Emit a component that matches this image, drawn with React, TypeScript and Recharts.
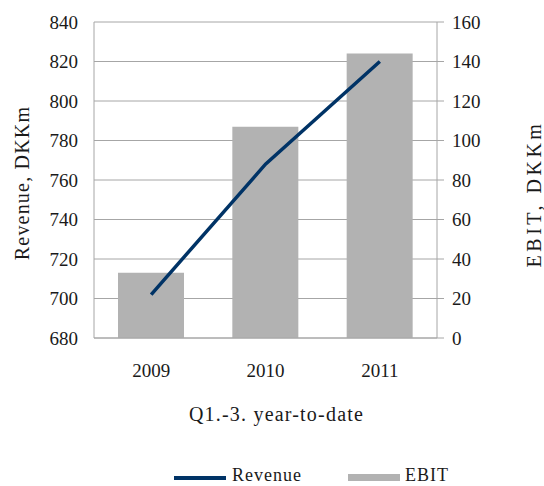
import React from 'react';
import { ComposedChart, Bar, Line, XAxis, YAxis, CartesianGrid, Legend, Label } from 'recharts';

const years = ['2009', '2010', '2011'];
const revenue = [702, 768, 820];
const ebit = [33, 107, 144];
const revenueTicks = [680, 700, 720, 740, 760, 780, 800, 820, 840];
const ebitTicks = [0, 20, 40, 60, 80, 100, 120, 140, 160];

const data = years.map((year, i) => ({ year, revenue: revenue[i], ebit: ebit[i] }));

const LINE_COLOR = '#003366';
const BAR_COLOR = '#b2b2b2';
const GRID_COLOR = '#a6a6a6';
const TEXT_COLOR = '#1a1a1a';
const FONT = '"Liberation Serif", "Times New Roman", serif';

const tickStyle = { fill: TEXT_COLOR, fontSize: 19 };
const titleStyle = { fill: TEXT_COLOR, fontSize: 20, letterSpacing: 1.2 };

// legend is drawn by hand so the swatches sit where the original puts them
const renderLegend = () => (
  <div style={{ position: 'relative', height: 24, fontSize: 18, letterSpacing: 1, color: TEXT_COLOR }}>
    <div style={{ position: 'absolute', left: 174, top: 14, width: 52, height: 4, background: LINE_COLOR }} />
    <span style={{ position: 'absolute', left: 232, top: 3, lineHeight: '20px', whiteSpace: 'nowrap' }}>Revenue</span>
    <div style={{ position: 'absolute', left: 348, top: 12, width: 52, height: 7, background: BAR_COLOR }} />
    <span style={{ position: 'absolute', left: 405, top: 3, lineHeight: '20px', whiteSpace: 'nowrap' }}>EBIT</span>
  </div>
);

export default function App() {
  return (
    <div style={{ position: 'absolute', left: 0, top: 0, fontFamily: FONT }}>
      <ComposedChart width={544} height={486} data={data} margin={{ top: 22, right: 0, bottom: 0, left: 0 }}>
        <CartesianGrid yAxisId="left" vertical={false} stroke={GRID_COLOR} />
        <XAxis
          dataKey="year"
          height={124}
          tickLine={false}
          tickSize={0}
          tickMargin={26}
          tick={tickStyle}
          axisLine={{ stroke: GRID_COLOR }}
        >
          <Label value="Q1.-3. year-to-date" position="insideTop" offset={69} dx={11} style={titleStyle} />
        </XAxis>
        <YAxis
          yAxisId="left"
          width={94}
          domain={[680, 840]}
          ticks={revenueTicks}
          interval={0}
          tickLine={false}
          tickSize={0}
          tickMargin={16}
          tick={tickStyle}
          axisLine={{ stroke: GRID_COLOR }}
        >
          <Label value="Revenue, DKKm" angle={-90} position="center" dx={-25} dy={3} style={titleStyle} />
        </YAxis>
        <YAxis
          yAxisId="right"
          orientation="right"
          width={107}
          domain={[0, 160]}
          ticks={ebitTicks}
          interval={0}
          tickSize={7}
          tickMargin={8}
          tickLine={{ stroke: GRID_COLOR }}
          tick={tickStyle}
          axisLine={{ stroke: GRID_COLOR }}
        >
          <Label
            value="EBIT, DKKm"
            angle={-90}
            position="center"
            dx={43}
            dy={14}
            style={{ ...titleStyle, letterSpacing: 3.5 }}
          />
        </YAxis>
        <Bar yAxisId="right" dataKey="ebit" name="EBIT" fill={BAR_COLOR} barSize={66} isAnimationActive={false} />
        <Line
          yAxisId="left"
          type="linear"
          dataKey="revenue"
          name="Revenue"
          stroke={LINE_COLOR}
          strokeWidth={3.5}
          dot={false}
          activeDot={false}
          isAnimationActive={false}
        />
        <Legend verticalAlign="bottom" content={renderLegend} />
      </ComposedChart>
    </div>
  );
}
